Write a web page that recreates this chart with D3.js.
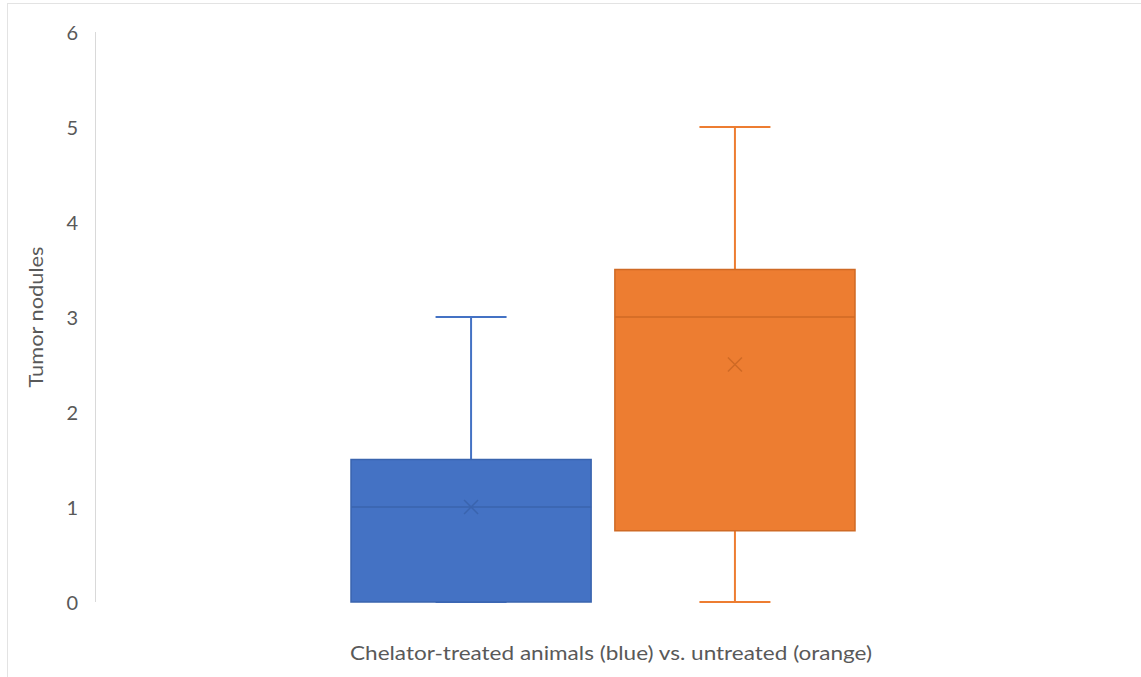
<!DOCTYPE html>
<html><head><meta charset="utf-8">
<script src="https://cdn.jsdelivr.net/npm/d3@7"></script>
<style>body{margin:0;background:#fff;} svg{display:block;}</style>
</head><body>
<script>
const categories = ["Chelator-treated", "Untreated"];
const minVals = [0, 0];
const q1Vals = [0, 0.75];
const medianVals = [1, 3];
const q3Vals = [1.5, 3.5];
const maxVals = [3, 5];
const meanVals = [1, 2.5];
const fills = ["#4472C4", "#ED7D31"];
const strokes = ["#3A64AE", "#CF6A25"];
const yTicks = [0, 1, 2, 3, 4, 5, 6];

const W = 1141, H = 677;
const svg = d3.select("body").append("svg").attr("width", W).attr("height", H);
const font = "Lato, 'Open Sans', sans-serif";

// chart frame
svg.append("line").attr("x1", 7).attr("x2", W).attr("y1", 3.5).attr("y2", 3.5).attr("stroke", "#e3e3e3");
svg.append("line").attr("x1", 7.5).attr("x2", 7.5).attr("y1", 3).attr("y2", H).attr("stroke", "#e3e3e3");

const y = d3.scaleLinear().domain([0, 6]).range([602, 32]);
const x = d3.scaleBand().domain(categories).range([351, 855]).paddingInner(0.09).paddingOuter(0);

// y axis
const yAxis = d3.axisLeft(y).tickValues(yTicks).tickSize(0).tickPadding(0).tickFormat(d3.format("d"));
const ga = svg.append("g").attr("transform", "translate(78,0)").call(yAxis);
ga.select(".domain").remove();
ga.selectAll("text").attr("font-family", font).attr("font-size", 20).attr("fill", "#595959").attr("dy", "0.35em");
svg.append("line").attr("x1", 95.5).attr("x2", 95.5).attr("y1", y(6)).attr("y2", y(0)).attr("stroke", "#d9d9d9").attr("stroke-width", 1);

// axis titles
svg.append("text").attr("transform", "translate(43,317) rotate(-90)").attr("text-anchor", "middle")
  .attr("font-family", font).attr("font-size", 20).attr("fill", "#595959")
  .attr("textLength", 141).attr("lengthAdjust", "spacingAndGlyphs").text("Tumor nodules");
svg.append("text").attr("x", 611).attr("y", 660).attr("text-anchor", "middle")
  .attr("font-family", font).attr("font-size", 19).attr("fill", "#595959")
  .attr("textLength", 522).attr("lengthAdjust", "spacingAndGlyphs")
  .text("Chelator-treated animals (blue) vs. untreated (orange)");

const bw = x.bandwidth();
const capW = 71;
categories.forEach((c, i) => {
  const g = svg.append("g");
  const cx = x(c) + bw / 2;
  // whiskers
  g.append("line").attr("x1", cx).attr("x2", cx).attr("y1", y(maxVals[i])).attr("y2", y(q3Vals[i]))
    .attr("stroke", fills[i]).attr("stroke-width", 2);
  g.append("line").attr("x1", cx).attr("x2", cx).attr("y1", y(q1Vals[i])).attr("y2", y(minVals[i]))
    .attr("stroke", fills[i]).attr("stroke-width", 2);
  g.append("line").attr("x1", cx - capW / 2).attr("x2", cx + capW / 2).attr("y1", y(maxVals[i])).attr("y2", y(maxVals[i]))
    .attr("stroke", fills[i]).attr("stroke-width", 2);
  g.append("line").attr("x1", cx - capW / 2).attr("x2", cx + capW / 2).attr("y1", y(minVals[i])).attr("y2", y(minVals[i]))
    .attr("stroke", fills[i]).attr("stroke-width", 2);
  // box
  g.append("rect").attr("x", x(c)).attr("width", bw).attr("y", y(q3Vals[i])).attr("height", y(q1Vals[i]) - y(q3Vals[i]))
    .attr("fill", fills[i]).attr("stroke", strokes[i]).attr("stroke-width", 1.5);
  // median
  g.append("line").attr("x1", x(c)).attr("x2", x(c) + bw).attr("y1", y(medianVals[i])).attr("y2", y(medianVals[i]))
    .attr("stroke", strokes[i]).attr("stroke-width", 1.5);
  // mean X
  const my = y(meanVals[i]), s = 7;
  g.append("path").attr("d", `M${cx - s},${my - s}L${cx + s},${my + s}M${cx - s},${my + s}L${cx + s},${my - s}`)
    .attr("stroke", strokes[i]).attr("stroke-width", 1.5).attr("fill", "none");
});
</script>
</body></html>
